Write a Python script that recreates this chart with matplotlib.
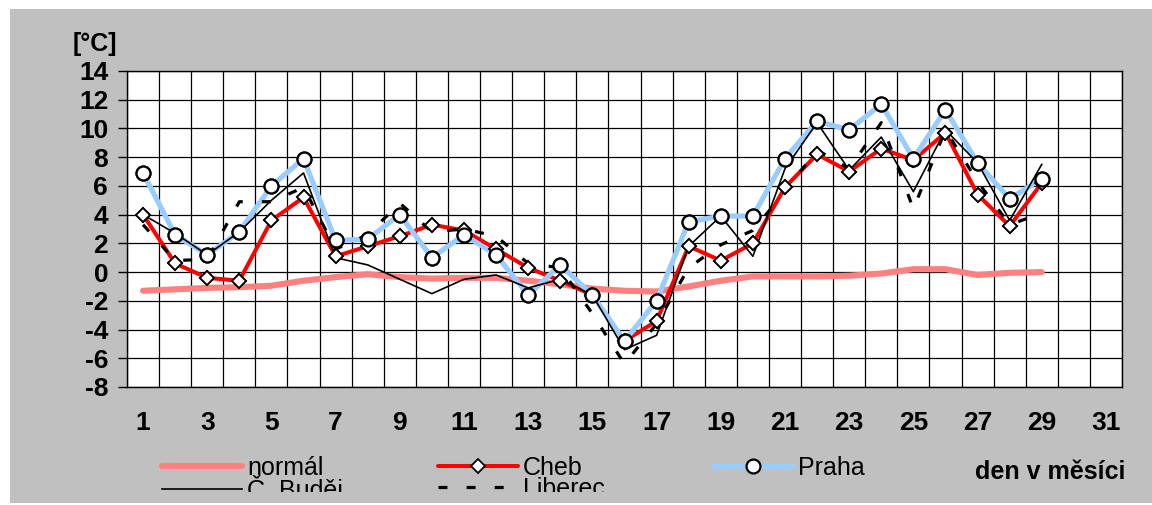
import numpy as np
import matplotlib
matplotlib.use('Agg')
import matplotlib.pyplot as plt
from matplotlib.patches import Rectangle
from matplotlib.transforms import Bbox

# mean daily temperature, one value per day of the month
days = list(range(1, 30))
normal = [-1.3, -1.2, -1.1, -1.05, -0.95, -0.6, -0.35, -0.15, -0.35, -0.45,
          -0.4, -0.4, -0.6, -0.85, -1.15, -1.3, -1.35, -1.0, -0.6, -0.3,
          -0.3, -0.3, -0.25, -0.1, 0.2, 0.2, -0.2, -0.05, 0.0]
cheb = [4.0, 0.6, -0.4, -0.6, 3.6, 5.2, 1.1, 1.8, 2.5, 3.3,
        2.9, 1.6, 0.3, -0.6, -1.6, -4.8, -3.4, 1.8, 0.8, 2.0,
        5.9, 8.2, 7.0, 8.6, 7.8, 9.7, 5.4, 3.2, 6.2]
praha = [6.9, 2.6, 1.2, 2.8, 6.0, 7.9, 2.2, 2.3, 4.0, 1.0,
         2.6, 1.2, -1.6, 0.5, -1.6, -4.8, -2.0, 3.5, 3.9, 3.9,
         7.9, 10.5, 9.9, 11.7, 7.9, 11.3, 7.6, 5.1, 6.5]
budejovice = [4.0, 2.7, 1.2, 2.8, 5.0, 6.9, 1.0, 0.5, -0.5, -1.5,
              -0.5, -0.2, -1.1, -0.5, -1.6, -5.4, -4.4, 1.8, 3.9, 1.1,
              7.2, 10.4, 7.1, 9.4, 5.6, 9.9, 7.6, 3.6, 7.5]
liberec = [3.3, 0.8, 0.9, 4.9, 4.9, 5.9, 1.6, 2.6, 4.8, 2.8,
           3.0, 2.5, 0.6, 0.3, -2.9, -6.4, -3.6, 0.3, 1.9, 2.9,
           5.6, 8.5, 7.2, 10.4, 4.4, 9.9, 6.3, 3.3, 4.1]
x_labels = list(range(1, 32, 2))
y_ticks = list(range(-8, 15, 2))

W, H = 1152, 505
plt.rcParams['font.family'] = ['Liberation Sans', 'DejaVu Sans']
plt.rcParams['axes.unicode_minus'] = False

fig = plt.figure(figsize=(W / 100, H / 100), dpi=100, facecolor='white')
fig.patches.append(Rectangle((10 / W, 2 / H), 1 - 10 / W, 494 / H,
                             transform=fig.transFigure, facecolor='#C0C0C0',
                             edgecolor='none', zorder=-10))

ax = fig.add_axes([127 / W, 118 / H, 995 / W, 316 / H])
ax.set_facecolor('white')

l_norm, = ax.plot(days, normal, color='#FF8080', lw=4.4,
                  solid_capstyle='round', solid_joinstyle='round', zorder=2)
l_cheb, = ax.plot(days, cheb, color='#FF0000', lw=2.9, marker='D', ms=7,
                  mfc='white', mec='black', mew=1.3,
                  solid_capstyle='round', solid_joinstyle='round', zorder=2)
l_praha, = ax.plot(days, praha, color='#99CCFF', lw=3.7, marker='o', ms=10,
                   mfc='white', mec='black', mew=1.6,
                   solid_capstyle='round', solid_joinstyle='round', zorder=2)
l_cb, = ax.plot(days, budejovice, color='black', lw=1.2, zorder=2)
l_lib, = ax.plot(days, liberec, color='black', lw=2.3,
                 linestyle=(0, (2.8, 6.0)), zorder=2)

# markers drawn above all lines, as in the original
ax.plot(days, cheb, linestyle='none', marker='D', ms=7, mfc='white',
        mec='black', mew=1.3, zorder=4)
ax.plot(days, praha, linestyle='none', marker='o', ms=10, mfc='white',
        mec='black', mew=1.6, zorder=5)

ax.set_xlim(0.5, 31.5)
ax.set_ylim(-8, 14)
ax.set_xticks(x_labels)
ax.set_xticks(np.arange(0.5, 32, 1), minor=True)
ax.set_yticks(y_ticks)
ax.grid(which='minor', axis='x', color='black', lw=0.9)
ax.grid(which='major', axis='y', color='black', lw=0.9)
ax.set_axisbelow(True)

ax.tick_params(axis='x', which='both', length=0, pad=17, labelsize=19)
ax.tick_params(axis='y', direction='out', length=6.5, width=1, pad=7,
               labelsize=19)
for lab in ax.get_xticklabels() + ax.get_yticklabels():
    lab.set_fontweight('bold')
for sp in ax.spines.values():
    sp.set_color('black')
    sp.set_linewidth(1)

fig.text(73 / W, 1 - 43.5 / H, '[°C]', fontsize=18, fontweight='bold',
         ha='left', va='center')
fig.text(975 / W, 1 - 472 / H, 'den v měsíci', fontsize=18,
         fontweight='bold', ha='left', va='center')

# legend entries placed one by one; lower row is cut by the chart edge
clip = Bbox.from_extents(0, 13, W, H)
entries = [(l_norm, 'normál', 162, 468),
           (l_cheb, 'Cheb', 438, 468),
           (l_praha, 'Praha', 713, 468),
           (l_cb, 'Č. Buděj.', 162, 489),
           (l_lib, 'Liberec', 438, 489)]
for handle, label, xp, yp in entries:
    leg = fig.legend([handle], [label], loc='center left',
                     bbox_to_anchor=(xp / W, 1 - yp / H), frameon=False,
                     borderpad=0, borderaxespad=0, handlelength=3.2,
                     handletextpad=0.2, fontsize=18)
    for t in leg.get_texts():
        t.set_clip_box(clip)
        t.set_clip_on(True)

fig.savefig('out.png', dpi=100, facecolor='white')
